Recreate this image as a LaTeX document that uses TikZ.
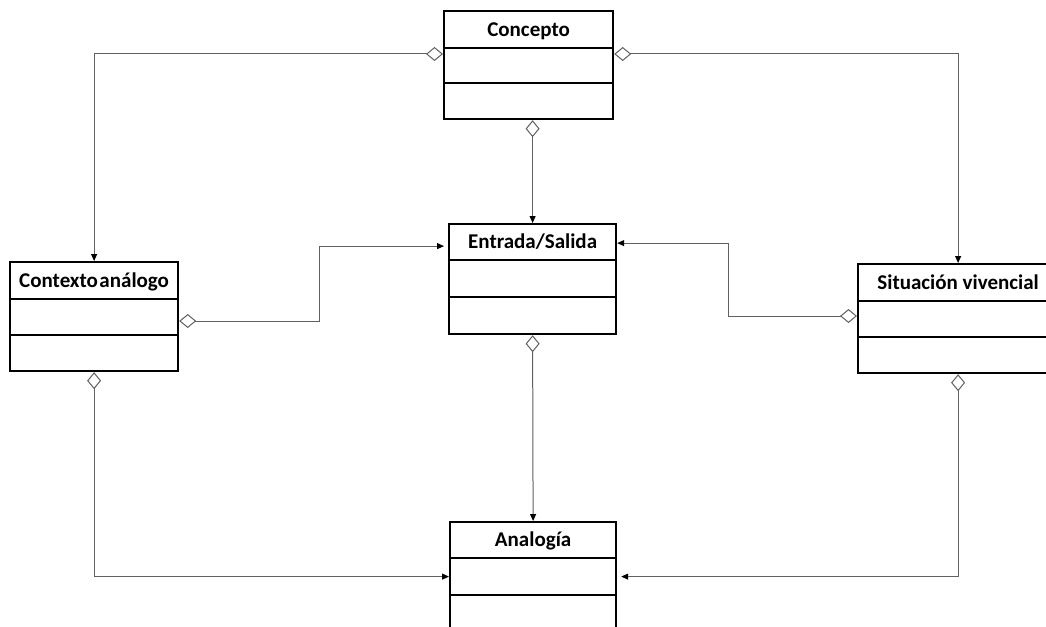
\documentclass[tikz,border=0pt]{standalone}
\usepackage{fontspec}
\setmainfont{Carlito}
\usetikzlibrary{arrows.meta}
\tikzset{
  comp/.style={draw=black, line width=2.2pt, fill=white, inner sep=0pt, anchor=north west},
  hdr/.style={comp, font=\bfseries\fontsize{21}{25}\selectfont, text height=13.5pt, text depth=0pt},
  conn/.style={draw=black!62, line width=1pt,
    {Diamond[open,length=17pt,width=14pt]}-{Triangle[length=7pt,width=6pt,fill=black,color=black]}}
}
\begin{document}
\begin{tikzpicture}[x=1pt,y=-1pt]
\useasboundingbox (0,0) rectangle (1046,626);
\clip (0,0) rectangle (1046,626);
\fill[white] (0,0) rectangle (1046,626);

% Concepto
\node[hdr, minimum width=169pt, minimum height=37pt] (conH) at (443,10) {Concepto};
\node[comp, minimum width=169pt, minimum height=35pt] (conA) at (443,47) {};
\node[comp, minimum width=169pt, minimum height=36pt] (conB) at (443,82) {};

% Entrada/Salida
\node[hdr, minimum width=167pt, minimum height=36pt] (entH) at (448,223) {Entrada/Salida};
\node[comp, minimum width=167pt, minimum height=37pt] (entA) at (448,259) {};
\node[comp, minimum width=167pt, minimum height=37pt] (entB) at (448,296) {};

% Contexto analogo
\node[hdr, minimum width=168pt, minimum height=37pt] (ctxH) at (9,261) {Contexto\hspace{1.5pt}análogo};
\node[comp, minimum width=168pt, minimum height=36pt] (ctxA) at (9,298) {};
\node[comp, minimum width=168pt, minimum height=36pt] (ctxB) at (9,334) {};

% Situacion vivencial
\node[hdr, minimum width=200pt, minimum height=37pt] (sitH) at (857,263) {Situación vivencial};
\node[comp, minimum width=200pt, minimum height=36pt] (sitA) at (857,300) {};
\node[comp, minimum width=200pt, minimum height=36pt] (sitB) at (857,336) {};

% Analogia
\node[hdr, minimum width=166pt, minimum height=36pt] (anaH) at (449,521) {Analogía};
\node[comp, minimum width=166pt, minimum height=37pt] (anaA) at (449,557) {};
\node[comp, minimum width=166pt, minimum height=46pt] (anaB) at (449,594) {};

% Connectors
\draw[conn] ([yshift=-7pt]conA.north west) -| (ctxH.north);
\draw[conn] ([yshift=-7pt]conA.north east) -| (sitH.north);
\draw[conn] (entH.north |- conB.south) -- (entH.north);
\draw[conn, shorten >=4pt] ([yshift=-23pt]ctxA.north east) -- ++(140,0) |- ([yshift=-4pt]entH.west);
\draw[conn] ([yshift=-16pt]sitA.north west) -- ++(-129,0) |- ([yshift=-1pt]entH.east);
\draw[conn] (entB.south) -- (anaH.north);
\draw[conn] (ctxB.south) |- (anaA.west);
\draw[conn, shorten >=4pt] (sitB.south) |- (anaA.east);
\end{tikzpicture}
\end{document}
